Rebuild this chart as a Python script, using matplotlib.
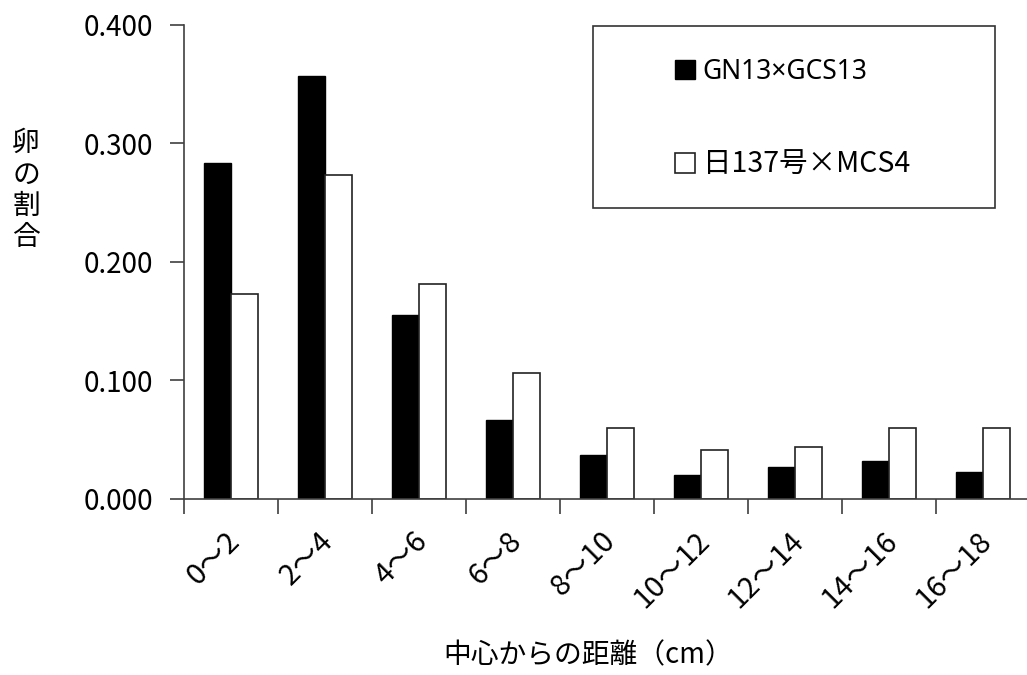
import matplotlib
matplotlib.use("Agg")
import matplotlib.pyplot as plt
import matplotlib.transforms as mtransforms
from matplotlib.patches import Rectangle
import numpy as np

plt.rcParams['font.family'] = ['Noto Sans CJK JP', 'DejaVu Sans']

# data
categories = ["0～2", "2～4", "4～6", "6～8", "8～10",
              "10～12", "12～14", "14～16", "16～18"]
gn13 = [0.283, 0.357, 0.155, 0.067, 0.037, 0.020, 0.027, 0.032, 0.023]
nichi137 = [0.173, 0.273, 0.181, 0.106, 0.060, 0.041, 0.044, 0.060, 0.060]
series_names = ["GN13×GCS13", "日137号×MCS4"]
yticks = [0.0, 0.1, 0.2, 0.3, 0.4]

W, H = 1027, 675
fig = plt.figure(figsize=(W / 100, H / 100), dpi=100)
ax_left, ax_right = 184, 1030
ax_top, ax_bottom = 24.5, 499
ax = fig.add_axes([ax_left / W, 1 - ax_bottom / H,
                   (ax_right - ax_left) / W, (ax_bottom - ax_top) / H])

x = np.arange(len(categories))
bw = 0.29
axis_col = '#404040'
b1 = ax.bar(x - bw / 2, gn13, bw, color='black', edgecolor='black', linewidth=1.0)
b2 = ax.bar(x + bw / 2, nichi137, bw, color='white', edgecolor='#222222', linewidth=1.2)

ax.set_xlim(-0.5, len(categories) - 0.5)
ax.set_ylim(0, 0.4)
ax.set_yticks(yticks)
ax.set_yticklabels([f"{v:.3f}" for v in yticks], fontsize=20)
ax.tick_params(axis='y', length=10, width=1.2, color=axis_col, pad=12)

ax.set_xticks(x)
ax.set_xticks(np.arange(len(categories) + 1) - 0.5, minor=True)
ax.tick_params(axis='x', which='major', length=0, pad=27)
ax.tick_params(axis='x', which='minor', length=11, width=1.2, color=axis_col)
offset = mtransforms.ScaledTranslation(3 / 72, 0, fig.dpi_scale_trans)
ax.set_xticklabels(categories, fontsize=21, rotation=45, ha='right',
                   va='center', rotation_mode='anchor')
for lab in ax.get_xticklabels():
    lab.set_transform(lab.get_transform() + offset)

for s in ['top', 'right']:
    ax.spines[s].set_visible(False)
for s in ['left', 'bottom']:
    ax.spines[s].set_color(axis_col)
    ax.spines[s].set_linewidth(1.2)

# y label, stacked vertically
fig.text(26 / W, 1 - 190 / H, "卵\nの\n割\n合", fontsize=20, ha='center',
         va='center', linespacing=1.05)
fig.text(588 / W, 1 - 655 / H, "中心からの距離（cm）", fontsize=20,
         ha='center', va='center')

# legend box
fig.patches.append(Rectangle((593 / W, 1 - 208 / H), (995 - 593) / W,
                             (208 - 26) / H, transform=fig.transFigure,
                             fill=False, edgecolor='#333333', linewidth=1.2))
leg = fig.legend([b1, b2], series_names, loc='upper left',
                 bbox_to_anchor=(675 / W, 1 - 58 / H), bbox_transform=fig.transFigure,
                 frameon=False, fontsize=19, borderpad=0, borderaxespad=0,
                 handlelength=0.75, handleheight=0.75, handletextpad=0.3,
                 labelspacing=2.4)
# narrow multiplication sign in the first label, like the reference
leg.get_texts()[0].set_family(['Noto Sans', 'Noto Sans CJK JP'])
leg.get_texts()[1].set_fontsize(20.5)

fig.savefig("out.png", dpi=100)
